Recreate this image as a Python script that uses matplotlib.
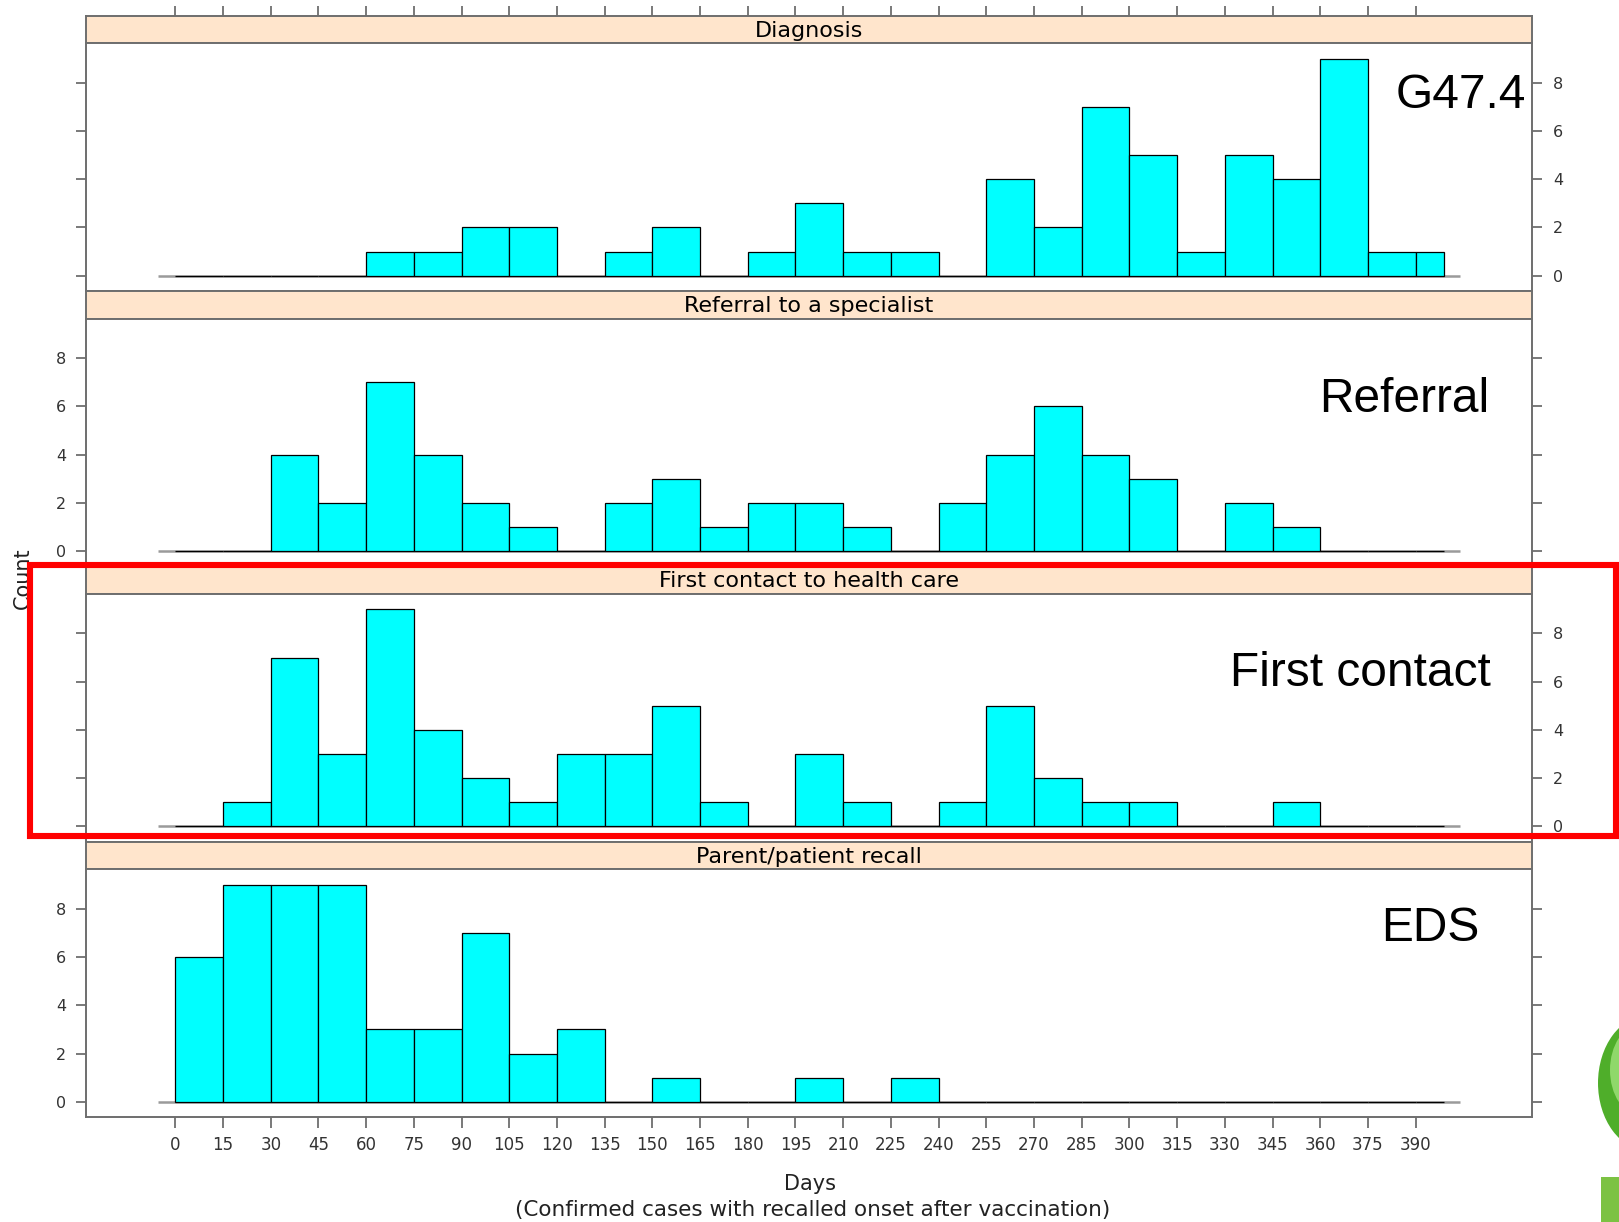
import numpy as np
import matplotlib
matplotlib.use("Agg")
import matplotlib.pyplot as plt
from matplotlib.patches import Rectangle, Ellipse

# ---------------- data ----------------
bin_edges = [0, 15, 30, 45, 60, 75, 90, 105, 120, 135, 150, 165, 180, 195,
             210, 225, 240, 255, 270, 285, 300, 315, 330, 345, 360, 375, 390, 399]

panel_titles = ["Diagnosis", "Referral to a specialist",
                "First contact to health care", "Parent/patient recall"]
overlay_labels = ["G47.4", "Referral", "First contact", "EDS"]

diagnosis_counts = [0, 0, 0, 0, 1, 1, 2, 2, 0, 1, 2, 0, 1, 3, 1, 1, 0,
                    4, 2, 7, 5, 1, 5, 4, 9, 1, 1]
referral_counts = [0, 0, 4, 2, 7, 4, 2, 1, 0, 2, 3, 1, 2, 2, 1, 0, 2,
                   4, 6, 4, 3, 0, 2, 1, 0, 0, 0]
first_contact_counts = [0, 1, 7, 3, 9, 4, 2, 1, 3, 3, 5, 1, 0, 3, 1, 0, 1,
                        5, 2, 1, 1, 0, 0, 1, 0, 0, 0]
recall_counts = [6, 9, 9, 9, 3, 3, 7, 2, 3, 0, 1, 0, 0, 1, 0, 1, 0,
                 0, 0, 0, 0, 0, 0, 0, 0, 0, 0]

x_ticks = [0, 15, 30, 45, 60, 75, 90, 105, 120, 135, 150, 165, 180, 195,
           210, 225, 240, 255, 270, 285, 300, 315, 330, 345, 360, 375, 390]
y_ticks = [0, 2, 4, 6, 8]

x_label = "Days"
x_sublabel = "(Confirmed cases with recalled onset after vaccination)"
y_label = "Count"

all_counts = [diagnosis_counts, referral_counts, first_contact_counts, recall_counts]

# ---------------- layout ----------------
W, H = 1619, 1222
fig = plt.figure(figsize=(W / 100, H / 100), dpi=100)
fig.patch.set_facecolor("white")


def rect(x0, top, w, h):
    return [x0 / W, 1 - (top + h) / H, w / W, h / H]


FONT = ["DejaVu Sans"]
BIG = ["Liberation Sans", "DejaVu Sans"]
BOX = "#6e6e6e"
TICK = "#555555"

left, right = 85.7, 1532.0
top0, pitch, strip_h = 15.5, 275.4, 27.8
xlim = (-28.2, 426.6)
ylim = (-0.63, 9.63)

edges = np.array(bin_edges, dtype=float)
widths = np.diff(edges)

label_baselines = [108, 412, 686, 941]
label_right = [1526, 1489, 1491, 1479]

for i, (title, counts) in enumerate(zip(panel_titles, all_counts)):
    t = top0 + i * pitch
    # strip
    sax = fig.add_axes(rect(left, t, right - left, strip_h))
    sax.set_facecolor("#ffe5cc")
    sax.set_xlim(xlim)
    sax.set_ylim(0, 1)
    sax.set_yticks([])
    if i == 0:
        sax.set_xticks(x_ticks)
        sax.tick_params(axis="x", top=True, bottom=False, labeltop=False,
                        labelbottom=False, direction="out", length=7.5,
                        width=1.1, color=TICK)
    else:
        sax.set_xticks([])
    for sp in sax.spines.values():
        sp.set_color(BOX)
        sp.set_linewidth(1.4)
    sax.text(0.5, 0.24, title, transform=sax.transAxes, ha="center",
             va="baseline", fontsize=16, family=FONT, color="black")

    # panel
    ax = fig.add_axes(rect(left, t + strip_h, right - left, pitch - strip_h))
    ax.set_xlim(xlim)
    ax.set_ylim(ylim)
    ax.plot([-5.5, 404], [0, 0], color="#9a9a9a", lw=1.8, zorder=1,
            solid_capstyle="butt")
    ax.bar(edges[:-1], counts, width=widths, align="edge", color="#00ffff",
           edgecolor="black", linewidth=0.9, zorder=2)
    for sp in ax.spines.values():
        sp.set_color(BOX)
        sp.set_linewidth(1.4)

    ax.set_yticks(y_ticks)
    ax.set_yticklabels([str(v) for v in y_ticks])
    if i % 2 == 0:
        ax.tick_params(axis="y", left=True, right=True, labelleft=False,
                       labelright=True, direction="out", length=7,
                       width=1.1, color=TICK, labelsize=11.5, pad=8,
                       labelcolor="#333333")
    else:
        ax.tick_params(axis="y", left=True, right=True, labelleft=True,
                       labelright=False, direction="out", length=7,
                       width=1.1, color=TICK, labelsize=11.5, pad=7,
                       labelcolor="#333333")
    for lab in ax.get_yticklabels():
        lab.set_family(FONT)

    if i == 3:
        ax.set_xticks(x_ticks)
        ax.set_xticklabels([str(v) for v in x_ticks])
        ax.tick_params(axis="x", bottom=True, top=False, direction="out",
                       length=8, width=1.1, color=TICK, labelsize=12,
                       pad=5.5, labelcolor="#333333")
        for lab in ax.get_xticklabels():
            lab.set_family(FONT)
    else:
        ax.set_xticks([])

    # big overlay label
    fig.text(label_right[i] / W, 1 - label_baselines[i] / H, overlay_labels[i],
             ha="right", va="baseline", fontsize=34.5, family=BIG,
             color="black")

# axis labels
fig.text(23 / W, 1 - 578 / H, y_label, rotation=90, ha="center", va="center",
         fontsize=15, family=FONT, color="#222222")
fig.text(810 / W, 1 - 1184 / H, x_label, ha="center", va="center",
         fontsize=15, family=FONT, color="#222222")
fig.text(813 / W, 1 - 1210 / H, x_sublabel, ha="center", va="center",
         fontsize=15.5, family=FONT, color="#222222")

# red highlight frame around "First contact" panel
fig.patches.append(Rectangle((30 / W, 1 - 836 / H), (1616 - 30) / W,
                             (836 - 565) / H, transform=fig.transFigure,
                             fill=False, edgecolor="#ff0000", linewidth=4.4,
                             zorder=10))

# slide decorations at the right edge
fig.patches.append(Ellipse((1648 / W, 1 - 1083 / H), 100 / W, 135 / H,
                           transform=fig.transFigure, facecolor="#4fae2a",
                           edgecolor="none", zorder=5))
fig.patches.append(Ellipse((1640 / W, 1 - 1070 / H), 60 / W, 90 / H,
                           transform=fig.transFigure, facecolor="#8fd86a",
                           edgecolor="none", zorder=6))
fig.patches.append(Rectangle((1601 / W, 0), 18 / W, 45 / H,
                             transform=fig.transFigure, facecolor="#7cc243",
                             edgecolor="none", zorder=5))

fig.savefig("out.png", dpi=100, facecolor="white")
